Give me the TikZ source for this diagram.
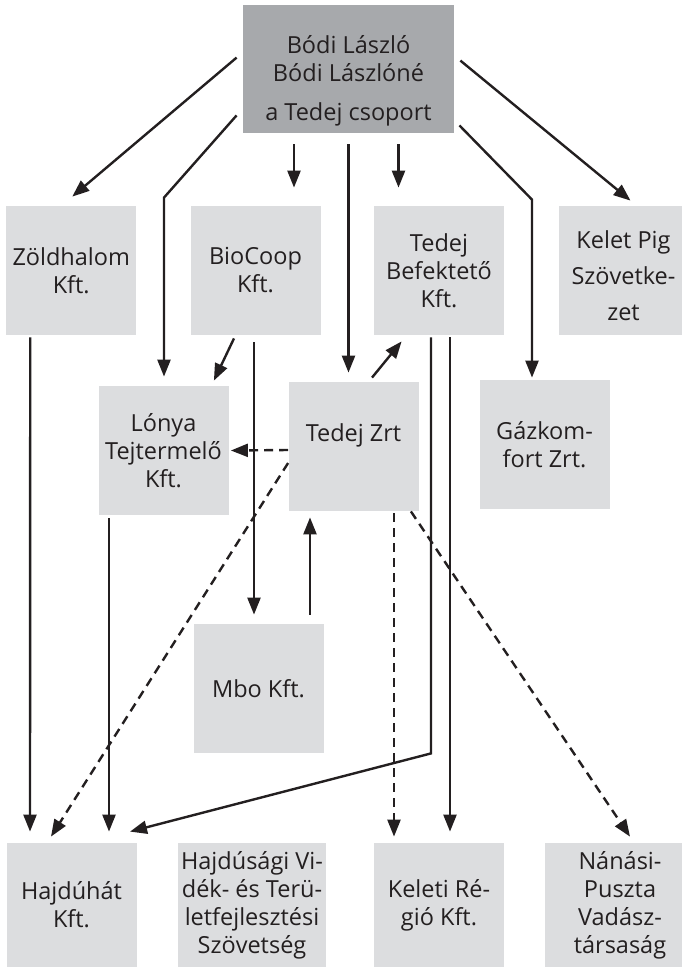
\documentclass[tikz,border=0pt]{standalone}
\usepackage{fontspec}
\setmainfont{Open Sans}
\usetikzlibrary{calc, positioning, arrows.meta}
\definecolor{boxgray}{HTML}{DCDDDF}
\definecolor{topgray}{HTML}{A7A9AC}
\definecolor{inkgray}{HTML}{231F20}
\tikzset{
	firm/.style={fill=boxgray, text=inkgray, minimum width=65pt, minimum height=64.5pt, inner sep=0pt, align=center, font=\fontsize{11.75}{14}\selectfont},
	owner/.style={firm, fill=topgray, minimum width=105.5pt, minimum height=64pt},
	lowfirm/.style={firm, minimum height=62pt},
	arr/.style={-{Triangle[length=8.5pt,width=6.5pt]}, line width=1.2pt, color=inkgray},
	darr/.style={arr, dash pattern=on 4.5pt off 3pt}
}
\begin{document}
\begin{tikzpicture}
			[x=0.5pt, y=-0.5pt]
		\useasboundingbox (0,0) rectangle (681,970);
		% nodes %
		\node[owner] (top) at (348.5,69) {\rule{0pt}{21pt}Bódi László\\Bódi Lászlóné\\[5.5pt]a Tedej csoport};
		\node[firm] (zold) at (71.25,270.5) {Zöldhalom\\Kft.};
		\node[firm] (bio) at (255.5,270.5) {BioCoop\\Kft.};
		\node[firm] (befek) at (439,270.5) {Tedej\\Befektető\\Kft.};
		\node[firm] (kelet) at (623.5,270.5) {\rule{0pt}{14pt}Kelet Pig\\[4pt]Szövetke-\\[4pt]zet};
		\node[firm] (lonya) at (163.5,450.5) {Lónya\\Tejtermelő\\Kft.};
		\node[firm] (zrt) at (353.5,446.5) {Tedej Zrt\rule[-14pt]{0pt}{14pt}};
		\node[firm] (gaz) at (544.5,444.5) {Gázkom-\\fort Zrt.};
		\node[firm] (mbo) at (258.5,688.5) {Mbo Kft.};
		\node[lowfirm] (hajduhat) at (71.5,905) {Hajdúhát\\Kft.};
		\node[lowfirm, minimum width=74pt] (hajdusagi) at (252,905) {Hajdúsági Vi-\\dék- és Terü-\\letfejlesztési\\Szövetség};
		\node[lowfirm] (keleti) at (439,905) {Keleti Ré-\\gió Kft.};
		\node[lowfirm, minimum width=75pt] (nanasi) at (620,905) {Nánási-\\Puszta\\Vadász-\\társaság};

		% edges %
		\draw[arr] ($(top.north west)+(-6,53)$) -- ($(zold.north)+(1,-9)$);
		\draw[arr] ($(top.south west)+(-6,-18)$) -- ($(lonya.north)+(0.5,-188)$) -- ($(lonya.north)+(0.5,-9)$);
		\draw[arr] ($(top.south)+(-54.5,11)$) -- ($(bio.north)+(38.5,-18)$);
		\draw[arr] ($(top.south)+(0,11)$) -- ($(zrt.north)+(-5,-9)$);
		\draw[arr] ($(top.south)+(50,11)$) -- ($(befek.north)+(-40.5,-18)$);
		\draw[arr] ($(top.south east)+(5,-8)$) -- ($(gaz.north)+(-12.5,-180)$) -- ($(gaz.north)+(-12.5,-2)$);
		\draw[arr] ($(top.north east)+(6,56)$) -- ($(kelet.north)+(7,-5)$);

		\draw[arr] ($(bio.south)+(-21.5,3)$) -- ($(lonya.north east)+(-15,-5)$);
		\draw[arr] ($(bio.south)+(-1.5,7)$) -- ($(mbo.north)+(-4.5,-9)$);
		\draw[arr] ($(zrt.north)+(18.5,-4)$) -- ($(befek.south west)+(28,6)$);
		\draw[darr] ($(zrt.west)+(0,3.5)$) -- ($(lonya.east)+(2,0)$);
		\draw[darr] ($(zrt.west)+(0,16.5)$) -- ($(hajduhat.north)+(-20.5,-6)$);
		\draw[arr] ($(mbo.north)+(51.5,-9)$) -- ($(zrt.south)+(-43.5,6)$);

		\draw[arr] ($(zold.south)+(-41,2)$) -- ($(hajduhat.north)+(-41.5,-11)$);
		\draw[arr] ($(lonya.south)+(-54.5,3)$) -- ($(hajduhat.north)+(37.5,-11)$);
		\draw[arr] ($(befek.south)+(-8,2)$) -- ($(mbo.south)+(172.5,0)$) -- ($(hajduhat.north)+(58.5,-11)$);
		\draw[arr] ($(befek.south)+(11,2)$) -- ($(keleti.north)+(11,-11)$);
		\draw[darr] ($(zrt.south)+(40.5,2)$) -- ($(keleti.north)+(-45,-6)$);
		\draw[darr] ($(zrt.south east)+(-8,0)$) -- ($(nanasi.north)+(10,-6)$);
		\end{tikzpicture}
\end{document}
